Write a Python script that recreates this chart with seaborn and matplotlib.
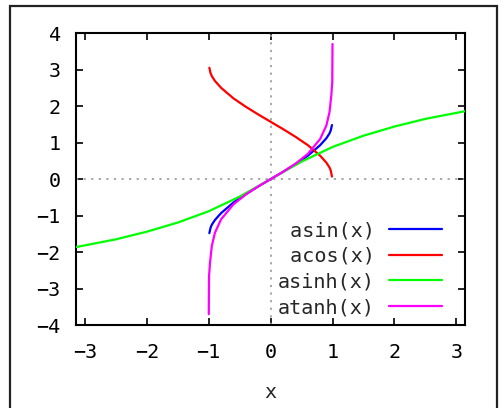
import numpy as np
import pandas as pd
import matplotlib
matplotlib.use("Agg")
import matplotlib.pyplot as plt
import seaborn as sns
from matplotlib.patches import Rectangle

# Curve samples
asin_x = [-0.99, -0.97, -0.95, -0.9, -0.8, -0.6, -0.4, -0.2, 0.0, 0.2, 0.4, 0.6, 0.8, 0.9, 0.95, 0.97, 0.99]
asin_y = [-1.48, -1.33, -1.25, -1.12, -0.93, -0.64, -0.41, -0.20, 0.0, 0.20, 0.41, 0.64, 0.93, 1.12, 1.25, 1.33, 1.48]

acos_x = [-0.99, -0.97, -0.95, -0.9, -0.8, -0.6, -0.4, -0.2, 0.0, 0.2, 0.4, 0.6, 0.8, 0.9, 0.95, 0.97, 0.99]
acos_y = [3.05, 2.90, 2.82, 2.69, 2.50, 2.21, 1.98, 1.77, 1.57, 1.37, 1.16, 0.93, 0.64, 0.45, 0.32, 0.24, 0.07]

asinh_x = [-3.14, -2.5, -2.0, -1.5, -1.0, -0.5, 0.0, 0.5, 1.0, 1.5, 2.0, 2.5, 3.14]
asinh_y = [-1.86, -1.65, -1.44, -1.19, -0.88, -0.48, 0.0, 0.48, 0.88, 1.19, 1.44, 1.65, 1.86]

atanh_x = [-0.999, -0.998, -0.995, -0.99, -0.98, -0.95, -0.9, -0.8, -0.6, -0.4, -0.2, 0.0,
           0.2, 0.4, 0.6, 0.8, 0.9, 0.95, 0.98, 0.99, 0.995, 0.998, 0.999]
atanh_y = [-3.70, -3.45, -2.65, -2.55, -2.30, -1.83, -1.47, -1.10, -0.69, -0.42, -0.20, 0.0,
           0.20, 0.42, 0.69, 1.10, 1.47, 1.83, 2.30, 2.55, 2.65, 3.45, 3.70]

labels = [" asin(x)", " acos(x)", "asinh(x)", "atanh(x)"]
colors = ["#0000ff", "#ff0000", "#00ff00", "#ff00ff"]

sns.set_style("ticks")
plt.rcParams["font.family"] = ["DejaVu Sans Mono"]

fig = plt.figure(figsize=(5.04, 4.08), dpi=100)
ax = fig.add_axes([0.151, 0.203, 0.772, 0.716])

# zero axes, dotted
ax.axhline(0, color="#a0a0a0", ls=(0, (1.2, 3)), lw=1.3, zorder=1)
ax.axvline(0, color="#a0a0a0", ls=(0, (1.2, 3)), lw=1.3, zorder=1)

series = [(asin_x, asin_y), (acos_x, acos_y), (asinh_x, asinh_y), (atanh_x, atanh_y)]
for (xs, ys), lab, col in zip(series, labels, colors):
    df = pd.DataFrame({"x": xs, "y": ys})
    sns.lineplot(data=df, x="x", y="y", sort=False, estimator=None,
                 color=col, lw=1.6, label=lab, ax=ax, zorder=3)

ax.set_xlim(-np.pi, np.pi)
ax.set_ylim(-4, 4)
ax.set_xticks([-3, -2, -1, 0, 1, 2, 3])
ax.set_yticks([-4, -3, -2, -1, 0, 1, 2, 3, 4])
ax.tick_params(direction="in", length=5, width=1.2, top=True, right=True,
               labelsize=14.5, colors="black")
ax.tick_params(axis="x", pad=13)
ax.tick_params(axis="y", pad=11)
for s in ax.spines.values():
    s.set_linewidth(1.5)
    s.set_color("black")
ax.set_xlabel("x", fontsize=14.5, labelpad=15)
ax.set_ylabel("")

ax.legend(loc="lower right", bbox_to_anchor=(0.96, 0.0), markerfirst=False,
          frameon=False, fontsize=14.5, handlelength=2.6, handletextpad=0.7,
          labelspacing=0.33, borderaxespad=0.0)

# outer frame
fig.patches.append(Rectangle((0.02, -0.05), 0.966, 1.035, transform=fig.transFigure,
                             fill=False, edgecolor="#222222", lw=1.6))

fig.savefig("out.png", dpi=100)
